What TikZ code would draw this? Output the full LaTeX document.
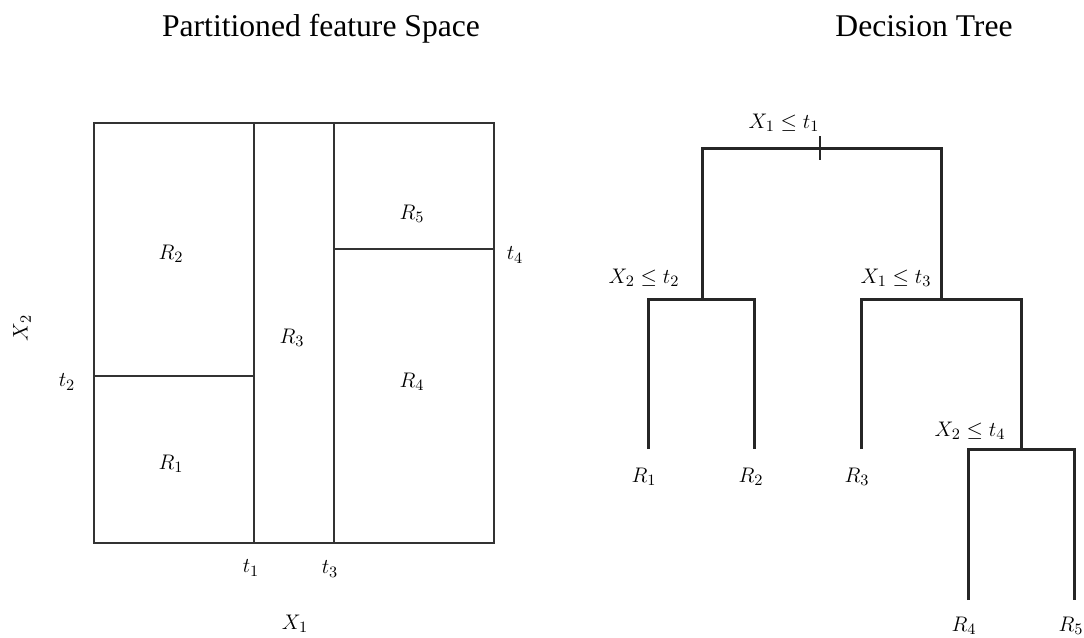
\documentclass[tikz,border=0pt]{standalone}
\usepackage{fontspec}
\newfontfamily\titlefont{Liberation Serif}
\tikzset{
  part/.style={line width=1.1pt, black!80},
  branch/.style={line width=1.7pt, black!85},
  lbl/.style={font=\fontsize{13}{15}\selectfont, inner sep=0pt},
  titre/.style={font=\titlefont\fontsize{18}{22}\selectfont, anchor=base, inner sep=0pt}
}
\begin{document}
\begin{tikzpicture}[x=0.02cm, y=-0.02cm]
    \useasboundingbox (0,0) rectangle (1084,637);
    % Titres
    \node[titre] (tpart) at (321,36) {Partitioned feature Space};
    \node[titre] (ttree) at (924,36) {Decision Tree};

    % Espace partitionne
    \draw[part] (94,123) rectangle (494,543);
    \draw[part] (254,123) -- (254,543);
    \draw[part] (334,123) -- (334,543);
    \draw[part] (94,376) -- (254,376);
    \draw[part] (334,249) -- (494,249);

    \node[lbl] (pR1) at (171,464) {$R_1$};
    \node[lbl] (pR2) at (171,254) {$R_2$};
    \node[lbl] (pR3) at (292,338) {$R_3$};
    \node[lbl] (pR4) at (412,382) {$R_4$};
    \node[lbl] (pR5) at (412,214) {$R_5$};

    \node[lbl] (pt1) at (251,568) {$t_1$};
    \node[lbl] (pt2) at (67,382) {$t_2$};
    \node[lbl] (pt3) at (330,569) {$t_3$};
    \node[lbl] (pt4) at (515,255) {$t_4$};
    \node[lbl] (pX1) at (295,624) {$X_1$};
    \node[lbl, rotate=90] (pX2) at (22,328) {$X_2$};

    % Arbre
    \coordinate (root) at (820,148);
    \coordinate (n2) at (702,299);
    \coordinate (n3) at (941,299);
    \coordinate (n4) at (1021,449);
    \coordinate (l1) at (648,449);
    \coordinate (l2) at (754,449);
    \coordinate (l3) at (861,449);
    \coordinate (l4) at (968,600);
    \coordinate (l5) at (1074,600);

    \draw[branch] (n2) |- (root) -| (n3);
    \draw[branch] (l1) |- (n2) -| (l2);
    \draw[branch] (l3) |- (n3) -| (n4);
    \draw[branch] (l4) |- (n4) -| (l5);
    \draw[branch, line width=1.2pt] (root) ++(0,-12) -- ++(0,24);

    \node[lbl] (s1) at (784,123) {$X_1 \leq t_1$};
    \node[lbl] (s2) at (644,278) {$X_2 \leq t_2$};
    \node[lbl] (s3) at (896,278) {$X_1 \leq t_3$};
    \node[lbl] (s4) at (970,431) {$X_2 \leq t_4$};

    \node[lbl] (R1) at (644,477) {$R_1$};
    \node[lbl] (R2) at (751,477) {$R_2$};
    \node[lbl] (R3) at (857,477) {$R_3$};
    \node[lbl] (R4) at (964,626) {$R_4$};
    \node[lbl] (R5) at (1071,626) {$R_5$};
\end{tikzpicture}
\end{document}
